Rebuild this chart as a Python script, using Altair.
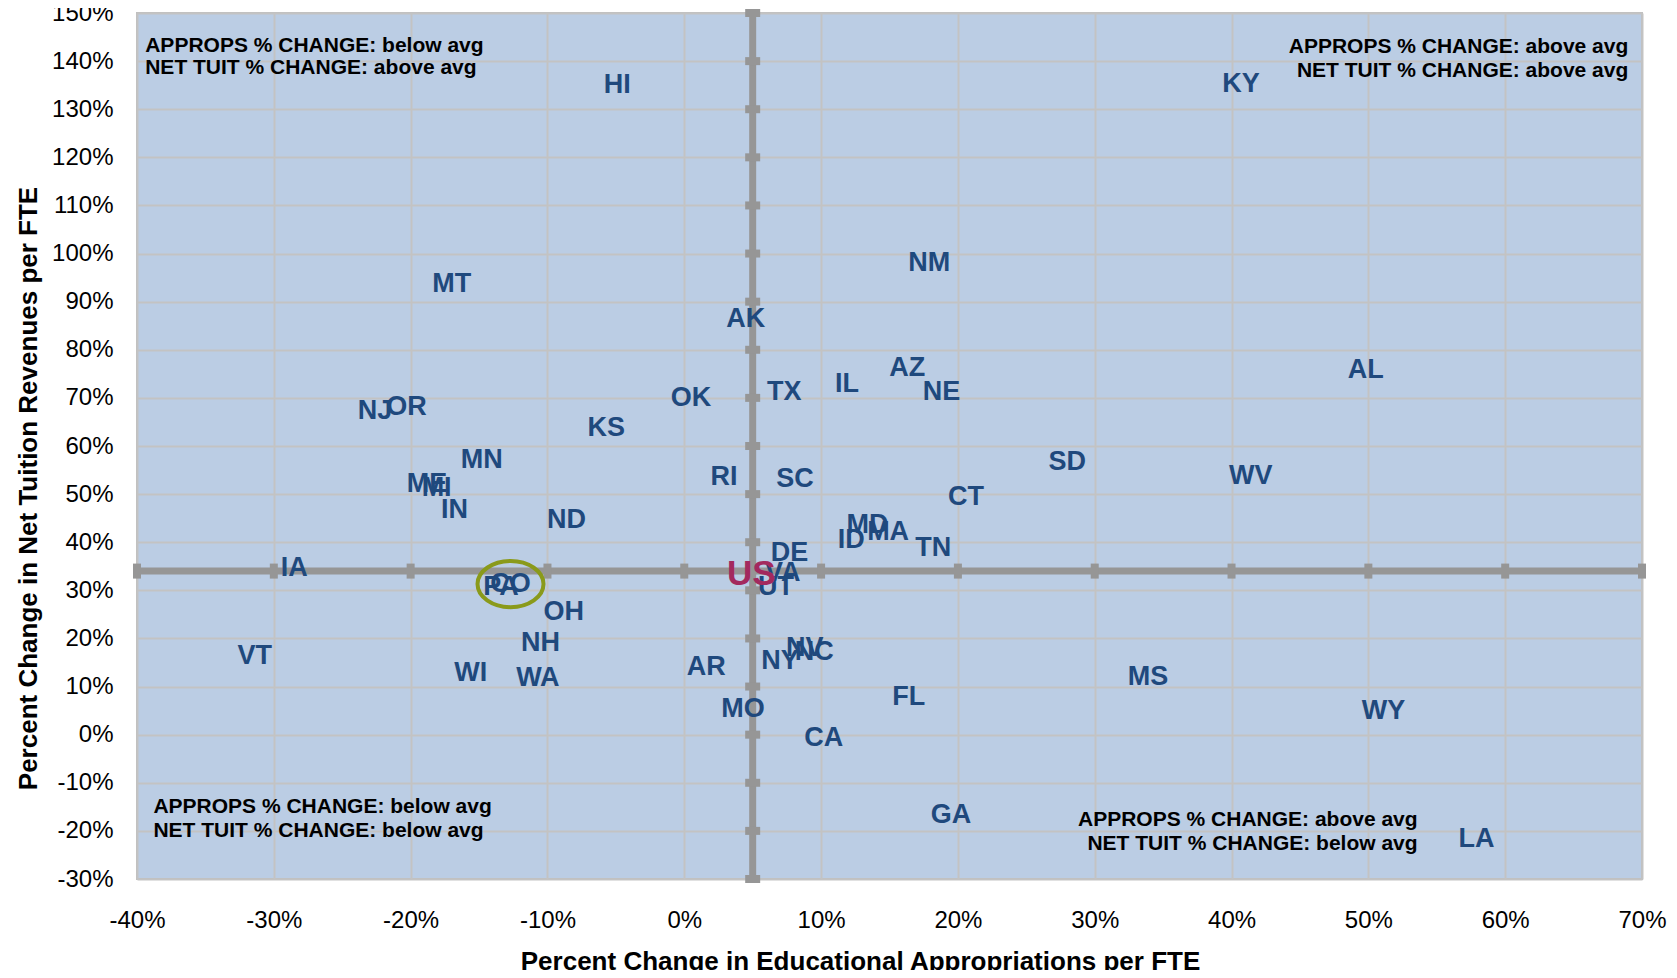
import altair as alt
import pandas as pd

# ---------------- data ----------------
states = ["HI", "KY", "NM", "MT", "AK", "AZ", "AL", "IL", "TX", "NE",
          "OK", "NJ", "OR", "KS", "MN", "SD", "WV", "RI", "SC", "ME",
          "MI", "CT", "IN", "ND", "MD", "MA", "ID", "TN", "DE", "IA",
          "VA", "UT", "PA", "CO", "OH", "NH", "NV", "NC", "VT", "NY",
          "MS", "WI", "WA", "AR", "FL", "MO", "WY", "CA", "GA", "LA"]
approps_change = [-4.9, 40.7, 17.9, -17.0, 4.5, 16.3, 49.8, 11.9, 7.3, 18.8,
                  0.5, -22.6, -20.3, -5.7, -14.8, 28.0, 41.4, 2.9, 8.1, -18.8,
                  -18.1, 20.6, -16.8, -8.6, 13.4, 14.9, 12.2, 18.2, 7.7, -28.5,
                  7.2, 6.7, -13.4, -12.7, -8.8, -10.5, 8.8, 9.5, -31.4, 7.0,
                  33.9, -15.6, -10.7, 1.6, 16.4, 4.3, 51.1, 10.2, 19.5, 57.9]
tuition_change = [135.1, 135.3, 98.0, 93.6, 86.4, 76.2, 75.8, 72.9, 71.3, 71.3,
                  70.0, 67.3, 68.2, 63.8, 57.1, 56.7, 53.8, 53.6, 53.1, 52.0,
                  51.3, 49.3, 46.7, 44.7, 43.6, 42.2, 40.4, 38.9, 37.8, 34.7,
                  33.6, 30.7, 30.7, 31.3, 25.6, 19.1, 18.0, 17.1, 16.4, 15.3,
                  12.0, 12.9, 11.8, 14.0, 7.8, 5.3, 4.9, -0.7, -16.7, -21.6]

us_label = ["US"]
us_approps = [4.9]
us_tuition = [33.4]

avg_approps = [5.0]      # vertical cross line
avg_tuition = [34.0]     # horizontal cross line

highlight_state = ["CO"]

x_ticks = [-40, -30, -20, -10, 0, 10, 20, 30, 40, 50, 60, 70]
y_ticks = [-30, -20, -10, 0, 10, 20, 30, 40, 50, 60, 70, 80, 90,
           100, 110, 120, 130, 140, 150]

ann_left_text = ["APPROPS % CHANGE: below avg", "NET TUIT % CHANGE: above avg",
                 "APPROPS % CHANGE: below avg", "NET TUIT % CHANGE: below avg"]
ann_left_x = [-39.4, -39.4, -38.8, -38.8]
ann_left_y = [143.1, 138.5, -15.1, -20.0]
ann_right_text = ["APPROPS % CHANGE: above avg", "NET TUIT % CHANGE: above avg",
                  "APPROPS % CHANGE: above avg", "NET TUIT % CHANGE: below avg"]
ann_right_x = [69.0, 69.0, 53.6, 53.6]
ann_right_y = [142.9, 138.0, -17.7, -22.7]

x_title = "Percent Change in Educational Appropriations per FTE"
y_title = "Percent Change in Net Tuition Revenues  per FTE"

# ---------------- tables ----------------
df = pd.DataFrame({"state": states, "x": approps_change, "y": tuition_change})
us_df = pd.DataFrame({"state": us_label, "x": us_approps, "y": us_tuition})
hl_df = df[df["state"].isin(highlight_state)]
hrule_df = pd.DataFrame({"x": [min(x_ticks)], "x2": [max(x_ticks)], "y": avg_tuition})
vrule_df = pd.DataFrame({"x": avg_approps, "y": [min(y_ticks)], "y2": [max(y_ticks)]})
htick_df = pd.DataFrame({"x": x_ticks, "y": avg_tuition * len(x_ticks)})
vtick_df = pd.DataFrame({"x": avg_approps * len(y_ticks), "y": y_ticks})
annl_df = pd.DataFrame({"t": ann_left_text, "x": ann_left_x, "y": ann_left_y})
annr_df = pd.DataFrame({"t": ann_right_text, "x": ann_right_x, "y": ann_right_y})

FONT = "Liberation Sans, Arial, sans-serif"
xscale = alt.Scale(domain=[min(x_ticks), max(x_ticks)], nice=False, zero=False)
yscale = alt.Scale(domain=[min(y_ticks), max(y_ticks)], nice=False, zero=False)

xaxis = alt.Axis(values=x_ticks, labelExpr="datum.value + '%'", title=x_title,
                 grid=True, domain=False, ticks=False, tickSize=0,
                 labelFlush=False, labelOverlap=False,
                 labelPadding=29, labelFontSize=24, labelColor="black",
                 labelFont=FONT, titleFont=FONT, titleFontSize=26,
                 titleFontWeight="bold", titleColor="black",
                 titleX=723, titleY=82, titleAlign="center", titleBaseline="middle")
yaxis = alt.Axis(values=y_ticks, labelExpr="datum.value + '%'", title=y_title,
                 grid=True, domain=False, ticks=False, tickSize=0,
                 labelFlush=False, labelOverlap=False,
                 labelPadding=24, labelFontSize=24, labelColor="black",
                 labelFont=FONT, titleFont=FONT, titleFontSize=26,
                 titleFontWeight="bold", titleColor="black",
                 titleX=-109, titleY=475, titleAngle=270,
                 titleAlign="center", titleBaseline="middle")


def X(field="x"):
    return alt.X(f"{field}:Q", scale=xscale, axis=xaxis)


def Y(field="y"):
    return alt.Y(f"{field}:Q", scale=yscale, axis=yaxis)


LINE_GRAY = "#969696"

hrule = alt.Chart(hrule_df).mark_rule(color=LINE_GRAY, strokeWidth=7).encode(
    x=X(), x2="x2:Q", y=Y())
vrule = alt.Chart(vrule_df).mark_rule(color=LINE_GRAY, strokeWidth=7).encode(
    x=X(), y=Y(), y2="y2:Q")
hticks = alt.Chart(htick_df).mark_tick(color=LINE_GRAY, orient="vertical",
                                       thickness=8, size=15, opacity=1).encode(x=X(), y=Y())
vticks = alt.Chart(vtick_df).mark_tick(color=LINE_GRAY, orient="horizontal",
                                       thickness=8, size=15, opacity=1).encode(x=X(), y=Y())

labels = alt.Chart(df).mark_text(font=FONT, fontSize=27, fontWeight="bold",
                                 color="#1F497D", align="center",
                                 baseline="middle").encode(x=X(), y=Y(), text="state:N")
us_text = alt.Chart(us_df).mark_text(font=FONT, fontSize=35, fontWeight="bold",
                                     color="#A3295E", align="center",
                                     baseline="middle").encode(x=X(), y=Y(), text="state:N")

ELLIPSE = "M -1 0 A 1 0.7 0 1 0 1 0 A 1 0.7 0 1 0 -1 0 Z"
ring = alt.Chart(hl_df).mark_point(shape=ELLIPSE, size=4356, filled=False,
                                   stroke="#8A9A1A", strokeWidth=4,
                                   opacity=1).encode(x=X(), y=Y())

annl = alt.Chart(annl_df).mark_text(font=FONT, fontSize=21, fontWeight="bold",
                                    color="black", align="left",
                                    baseline="middle").encode(x=X(), y=Y(), text="t:N")
annr = alt.Chart(annr_df).mark_text(font=FONT, fontSize=21, fontWeight="bold",
                                    color="black", align="right",
                                    baseline="middle").encode(x=X(), y=Y(), text="t:N")

chart = alt.layer(hrule, vrule, hticks, vticks, annl, annr, labels, us_text, ring).properties(
    width=1505, height=866,
    autosize=alt.AutoSizeParams(type="none"),
    padding={"left": 129, "top": 5, "right": 25, "bottom": 91},
    background="white",
).configure_view(
    fill="#BBCDE4", stroke="#BFBFBF", strokeWidth=2
).configure_axis(
    gridColor="#C3C3C3", gridWidth=2, gridOpacity=1
)

chart.save("out.html", embed_options={"renderer": "svg", "actions": False})
